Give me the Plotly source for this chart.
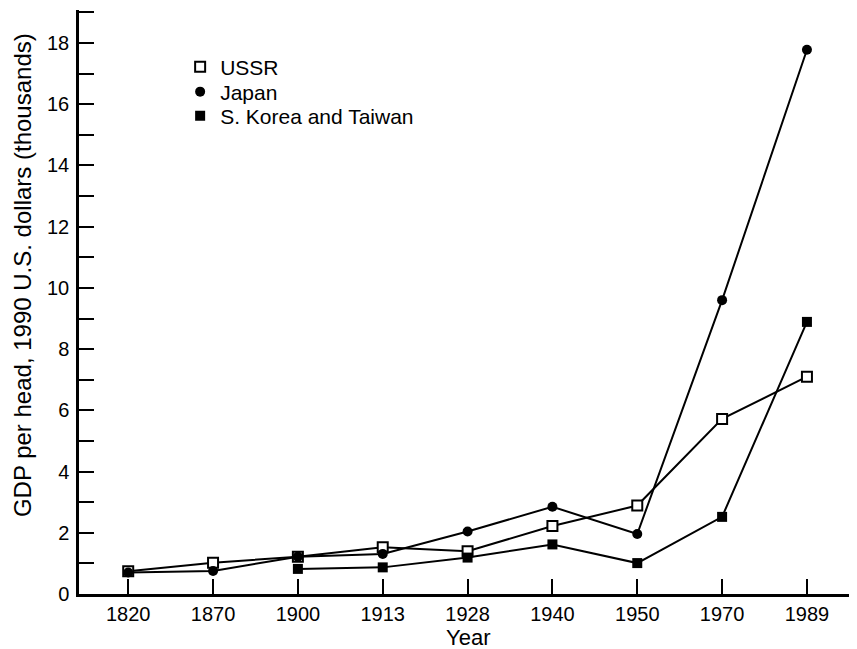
import plotly.graph_objects as go

years = ["1820", "1870", "1900", "1913", "1928", "1940", "1950", "1970", "1989"]
ussr = [0.74, 1.02, 1.22, 1.53, 1.40, 2.22, 2.89, 5.72, 7.10]
japan = [0.70, 0.75, 1.22, 1.31, 2.04, 2.85, 1.96, 9.60, 17.78]
korea_years = ["1900", "1913", "1928", "1940", "1950", "1970", "1989"]
korea = [0.82, 0.87, 1.19, 1.62, 1.01, 2.52, 8.89]

series = [
    ("USSR", years, ussr, dict(symbol="square", size=10, color="white", line=dict(width=2, color="black")), "legend", 0.9024),
    ("Japan", years, japan, dict(symbol="circle", size=10, color="black"), "legend2", 0.8596),
    ("S. Korea and Taiwan", korea_years, korea, dict(symbol="square", size=10, color="black"), "legend3", 0.8185),
]

font = "Liberation Sans, Arial, sans-serif"
fig = go.Figure()
for name, xs, ys, mk, lg, ly in series:
    fig.add_trace(go.Scatter(x=xs, y=ys, mode="lines", line=dict(color="black", width=2),
                             showlegend=False, hoverinfo="skip"))
legends = {}
for name, xs, ys, mk, lg, ly in series:
    fig.add_trace(go.Scatter(x=xs, y=ys, mode="markers", marker=mk, name=name,
                             showlegend=True, legend=lg))
    legends[lg] = dict(x=0.13, y=ly, xanchor="left", yanchor="middle",
                       font=dict(size=21, family=font, color="black"),
                       bgcolor="rgba(0,0,0,0)", itemwidth=30)

# page body has an 8px margin, so the figure is 8px smaller and offsets reduced by 8
fig.update_layout(
    width=849, height=641,
    margin=dict(l=71, r=0, t=2, b=55, autoexpand=False),
    paper_bgcolor="white", plot_bgcolor="white",
    font=dict(family=font, color="black", size=20),
    **legends,
    xaxis=dict(type="category", categoryorder="array", categoryarray=years,
               automargin=False,
               range=[-0.58, 8.59], showline=True, linecolor="black", linewidth=2.5,
               ticks="inside", ticklen=15, tickwidth=2, tickcolor="black",
               showgrid=False, zeroline=False,
               tickfont=dict(size=20, family=font)),
    yaxis=dict(range=[0, 19.08], dtick=2, tick0=0, showline=True, linecolor="black", linewidth=2.5,
               automargin=False,
               ticks="inside", ticklen=15, tickwidth=2, tickcolor="black",
               ticklabelstandoff=3,
               minor=dict(dtick=1, ticks="inside", ticklen=15, tickwidth=2, tickcolor="black"),
               showgrid=False, zeroline=False,
               tickfont=dict(size=20, family=font)),
    annotations=[
        dict(text="Year", xref="paper", yref="paper", x=0.5, y=-0.0753,
             xanchor="center", yanchor="middle", showarrow=False,
             font=dict(size=22, family=font, color="black")),
        dict(text="GDP per head, 1990 U.S. dollars (thousands)", xref="paper", yref="paper",
             x=-0.0733, y=0.546, xanchor="center", yanchor="middle", textangle=-90,
             showarrow=False, font=dict(size=24, family=font, color="black")),
    ],
)

fig.write_html("out.html")
